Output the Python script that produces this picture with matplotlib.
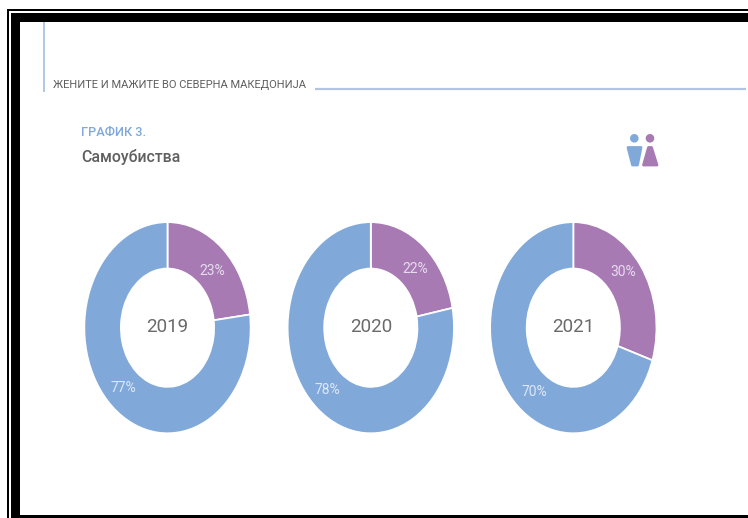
import matplotlib
matplotlib.use("Agg")
import matplotlib.pyplot as plt
from matplotlib.patches import Rectangle, Circle, Polygon

W, H = 748, 518

# Data
years = ["2019", "2020", "2021"]
women = [23, 22, 30]
men = [77, 78, 70]

# Colours
BLUE = "#80a9da"
PURPLE = "#a87ab3"
GREY = "#5f5f5f"

plt.rcParams["font.family"] = ["Roboto", "DejaVu Sans"]

fig = plt.figure(figsize=(W / 100, H / 100), dpi=100, facecolor="white")

# Full-figure axes in pixel coordinates for the frame, rules and headings
bg = fig.add_axes([0, 0, 1, 1])
bg.set_xlim(0, W)
bg.set_ylim(H, 0)
bg.axis("off")

# Double black frame (open on the right)
bg.add_patch(Rectangle((7, 9), W - 7, 2, color="black", lw=0))
bg.add_patch(Rectangle((7, 9), 2, H - 9, color="black", lw=0))
bg.add_patch(Rectangle((11, 13), W - 11, 9, color="black", lw=0))
bg.add_patch(Rectangle((11, 13), 9, H - 13, color="black", lw=0))
bg.add_patch(Rectangle((11, 515), W - 11, 3, color="black", lw=0))

# Header rules
bg.plot([44, 44], [22, 92], color="#a9c3e3", lw=1.3, solid_capstyle="butt")
bg.plot([315, 746], [89, 89], color="#b3c4e2", lw=1.6, solid_capstyle="butt")

# Headings
bg.text(53, 85, "ЖЕНИТЕ И МАЖИТЕ ВО СЕВЕРНА МАКЕДОНИЈА", fontsize=8,
        color=GREY, va="center", ha="left")
bg.text(81, 132, "ГРАФИК 3.", fontsize=9.2, color=BLUE, va="center", ha="left",
        fontweight="medium")
bg.text(81, 157, "Самоубиства", fontsize=11.4, color=GREY, va="center", ha="left",
        fontweight="medium")

# Small man and woman icon
bg.add_patch(Circle((634.3, 138.3), 4.3, color=BLUE, lw=0))
bg.add_patch(Polygon([(628, 147.5), (641, 147.5), (637.5, 165), (632.5, 165)],
                     closed=True, fc=BLUE, ec=BLUE, lw=2, joinstyle="round"))
bg.add_patch(Circle((650, 138.3), 4.3, color=PURPLE, lw=0))
bg.add_patch(Polygon([(648.5, 147.5), (651.5, 147.5), (657, 165), (643.5, 165)],
                     closed=True, fc=PURPLE, ec=PURPLE, lw=2, joinstyle="round"))

# Donut centres and radii in pixels
centers_x = [167.5, 370.8, 573.3]
center_y = 327.7
rx, ry = 83.2, 105.6
hole = 0.56

for i, year in enumerate(years):
    cx = centers_x[i]
    ax = fig.add_axes([(cx - rx) / W, 1 - (center_y + ry) / H, 2 * rx / W, 2 * ry / H])
    wedges, _ = ax.pie([women[i], men[i]], colors=[PURPLE, BLUE], startangle=90,
                       counterclock=False, radius=1.0,
                       wedgeprops=dict(width=1 - hole, edgecolor="white", linewidth=1.3))
    ax.set_aspect("auto")
    ax.set_xlim(-1, 1)
    ax.set_ylim(-1, 1)
    ax.patch.set_alpha(0)
    ax.text(0, 0.01, year, fontsize=13.5, color="#6a6a6a", ha="center", va="center")

# Percentage labels
label_pos_women = [(212.7, 271), (415.7, 269), (623, 272)]
label_pos_men = [(123, 388), (327, 390), (534.7, 391.7)]
for i in range(3):
    bg.text(*label_pos_women[i], f"{women[i]}%", fontsize=10, color="#e6dcee",
            ha="center", va="center", zorder=5)
    bg.text(*label_pos_men[i], f"{men[i]}%", fontsize=10, color="#dde8f6",
            ha="center", va="center", zorder=5)
bg.set_zorder(5)
bg.patch.set_alpha(0)

fig.savefig("out.png", dpi=100)
